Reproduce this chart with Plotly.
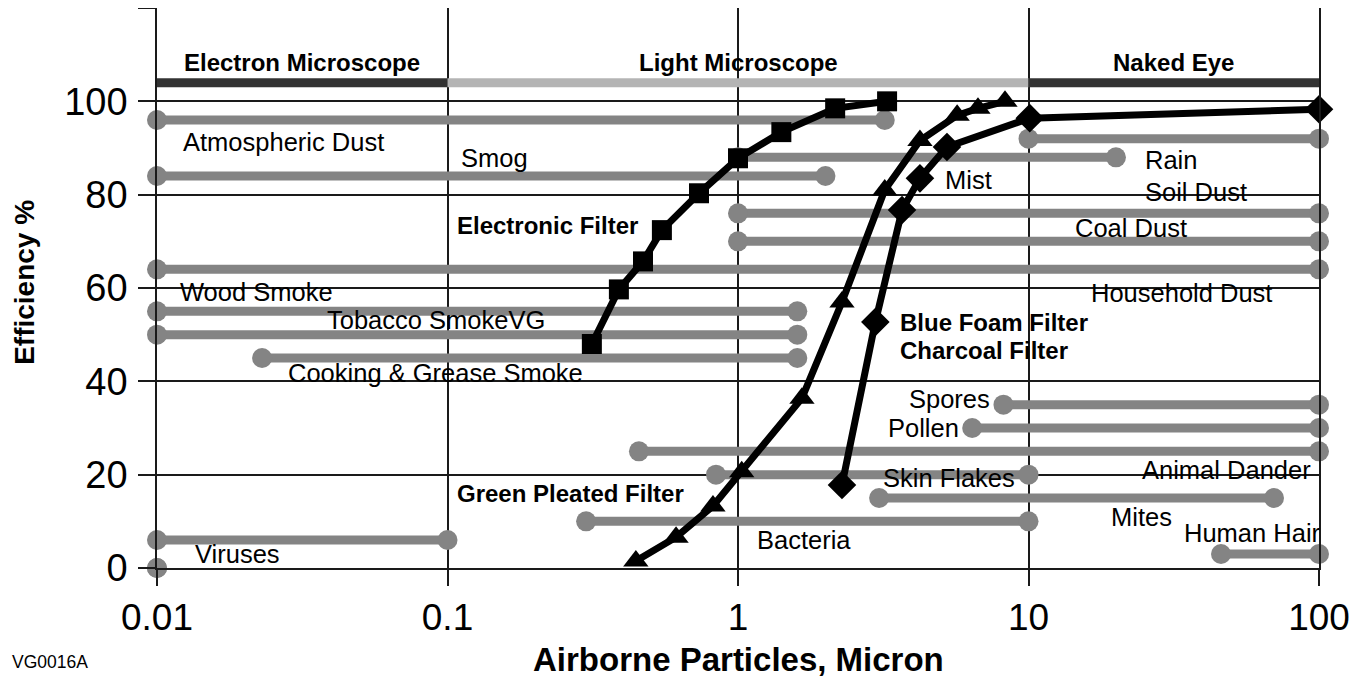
import math
import plotly.graph_objects as go

# ---------------- data ----------------
# Filter efficiency curves (particle size in micron, efficiency %)
electronic_x = [0.314, 0.389, 0.471, 0.547, 0.734, 1.0, 1.41, 2.16, 3.26]
electronic_y = [48.0, 59.7, 65.7, 72.4, 80.3, 87.8, 93.4, 98.5, 100.0]

green_pleated_x = [0.445, 0.612, 0.82, 1.03, 1.66, 2.28, 3.2, 4.23, 5.68, 6.7, 8.3]
green_pleated_y = [1.5, 6.6, 13.3, 20.6, 36.4, 57.0, 81.0, 91.6, 97.0, 98.5, 100.0]

charcoal_x = [2.28, 2.97, 3.67, 4.23, 5.24, 10.1, 100]
charcoal_y = [17.8, 52.7, 76.7, 83.5, 90.2, 96.4, 98.3]

# Particle size ranges: name, from (micron), to (micron), plotted level
particle_names = ["Atmospheric Dust", "Smog", "Rain", "Mist", "Soil Dust", "Coal Dust",
                  "Household Dust", "Wood Smoke", "Tobacco Smoke", "Cooking & Grease Smoke",
                  "Spores", "Pollen", "Animal Dander", "Skin Flakes", "Mites", "Bacteria",
                  "Human Hair", "Viruses", "Viruses (min)"]
particle_from = [0.01, 0.01, 10, 1.0, 1.0, 1.0, 0.01, 0.01, 0.01, 0.023,
                 8.2, 6.4, 0.456, 0.84, 3.06, 0.3, 46, 0.01, 0.01]
particle_to = [3.2, 2.0, 100, 20, 100, 100, 100, 1.6, 1.6, 1.6,
               100, 100, 100, 10, 70, 10, 100, 0.1, 0.01]
particle_level = [96, 84, 92, 88, 76, 70, 64, 55, 50, 45,
                  35, 30, 25, 20, 15, 10, 3, 6, 0]

# Visibility bands
band_names = ["Electron Microscope", "Light Microscope", "Naked Eye"]
band_from = [0.01, 0.1, 10]
band_to = [0.1, 10, 100]
band_level = 104

x_tick_vals = [0.01, 0.1, 1, 10, 100]
x_tick_text = ["0.01", "0.1", "1", "10", "100"]
y_tick_vals = [0, 20, 40, 60, 80, 100, 120]
y_tick_text = ["0", "20", "40", "60", "80", "100", ""]

# ---------------- styling ----------------
FONT = "Liberation Sans Narrow, Arial Narrow, Liberation Sans, Arial, Helvetica, sans-serif"
REG = "Liberation Sans, Arial, Helvetica, sans-serif"
GREY = "#848484"
INK = "#1a1a1a"

fig = go.Figure()

# grey particle ranges
px, py = [], []
for a, b, lv in zip(particle_from, particle_to, particle_level):
    px += [a, b, None]
    py += [lv, lv, None]
fig.add_trace(go.Scatter(x=px, y=py, mode="lines+markers",
                         line=dict(color=GREY, width=9),
                         marker=dict(color=GREY, size=20, symbol="circle"),
                         cliponaxis=False, hoverinfo="skip", showlegend=False))

# bands
band_colors = ["#333333", "#b4b4b4", "#333333"]
for a, b, c in zip(band_from, band_to, band_colors):
    fig.add_trace(go.Scatter(x=[a, b], y=[band_level, band_level], mode="lines",
                             line=dict(color=c, width=9), cliponaxis=False,
                             hoverinfo="skip", showlegend=False))

# filter curves
fig.add_trace(go.Scatter(x=green_pleated_x, y=green_pleated_y, mode="lines+markers",
                         line=dict(color="black", width=7),
                         marker=dict(color="black", size=22, symbol="triangle-up"),
                         cliponaxis=False, showlegend=False))
fig.add_trace(go.Scatter(x=charcoal_x, y=charcoal_y, mode="lines+markers",
                         line=dict(color="black", width=7),
                         marker=dict(color="black", size=22, symbol="diamond"),
                         cliponaxis=False, showlegend=False))
fig.add_trace(go.Scatter(x=electronic_x, y=electronic_y, mode="lines+markers",
                         line=dict(color="black", width=7),
                         marker=dict(color="black", size=20, symbol="square"),
                         cliponaxis=False, showlegend=False))

# ---------------- labels ----------------
# (text, x micron, y, anchor, bold)
labels = [
    ("Atmospheric Dust", 0.0121, 91.3, "left", False),
    ("Smog", 0.1096, 87.9, "left", False),
    ("Rain", 24.8, 87.4, "left", False),
    ("Soil Dust", 24.8, 80.6, "left", False),
    ("Mist", 5.08, 83.1, "left", False),
    ("Coal Dust", 14.2, 72.9, "left", False),
    ("Household Dust", 16.1, 58.9, "left", False),
    ("Wood Smoke", 0.0118, 59.1, "left", False),
    ("Tobacco SmokeVG", 0.0378, 53.1, "left", False),
    ("Cooking & Grease Smoke", 0.0278, 41.8, "left", False),
    ("Spores", 3.82, 36.2, "left", False),
    ("Pollen", 3.24, 30.0, "left", False),
    ("Animal Dander", 24.2, 21.0, "left", False),
    ("Skin Flakes", 3.10, 19.3, "left", False),
    ("Mites", 18.9, 10.9, "left", False),
    ("Bacteria", 1.146, 6.0, "left", False),
    ("Human Hair", 33.7, 7.5, "left", False),
    ("Viruses", 0.0133, 3.0, "left", False),
    ("Electronic Filter", 0.1062, 73.3, "left", True),
    ("Blue Foam Filter", 3.56, 52.7, "left", True),
    ("Charcoal Filter", 3.56, 46.7, "left", True),
    ("Green Pleated Filter", 0.1062, 15.9, "left", True),
    ("Electron Microscope", 0.0316, 108.4, "center", True),
    ("Light Microscope", 1.0, 108.4, "center", True),
    ("Naked Eye", 31.6, 108.4, "center", True),
]
ann = []
for t, xv, yv, anc, bold in labels:
    ann.append(dict(text=f"<b>{t}</b>" if bold else t, x=math.log10(xv), y=yv,
                    xref="x", yref="y", xanchor=anc, yanchor="middle",
                    showarrow=False,
                    font=dict(family=FONT, size=24 if bold else 25.5, color="black")))

ann.append(dict(text="<b>Efficiency %</b>", x=-0.1136, y=0.511, xref="paper", yref="paper",
                textangle=-90, showarrow=False, xanchor="center", yanchor="middle",
                font=dict(family=FONT, size=28, color="black")))
ann.append(dict(text="<b>Airborne Particles, Micron</b>", x=0.5, y=-0.164,
                xref="paper", yref="paper", showarrow=False, xanchor="center",
                yanchor="middle", font=dict(family=FONT, size=33, color="black")))
ann.append(dict(text="VG0016A", x=-0.1265, y=-0.168, xref="paper", yref="paper",
                showarrow=False, xanchor="left", yanchor="middle",
                font=dict(family=FONT, size=17.5, color="black")))

# The page adds an 8px body margin, so the figure is sized/margined to compensate.
fig.update_layout(
    width=1354, height=673,
    margin=dict(l=149, r=43, t=0, b=113, autoexpand=False),
    plot_bgcolor="white", paper_bgcolor="white",
    annotations=ann,
    xaxis=dict(type="log", range=[-2, 2], tickvals=x_tick_vals, ticktext=x_tick_text,
               showgrid=True, gridcolor=INK, gridwidth=1.5,
               ticks="outside", ticklen=16, tickwidth=1.5, tickcolor=INK,
               showline=True, linecolor=INK, linewidth=1.5, mirror=True,
               tickfont=dict(family=REG, size=37, color="black"), zeroline=False),
    yaxis=dict(range=[0, 120], tickvals=y_tick_vals, ticktext=y_tick_text,
               showgrid=True, gridcolor=INK, gridwidth=1.5,
               ticks="outside", ticklen=17, tickwidth=1.5, tickcolor=INK,
               showline=True, linecolor=INK, linewidth=1.5, mirror=True,
               tickfont=dict(family=REG, size=38, color="black"), zeroline=False,
               ticklabelstandoff=3),
)

fig.write_html("out.html")
